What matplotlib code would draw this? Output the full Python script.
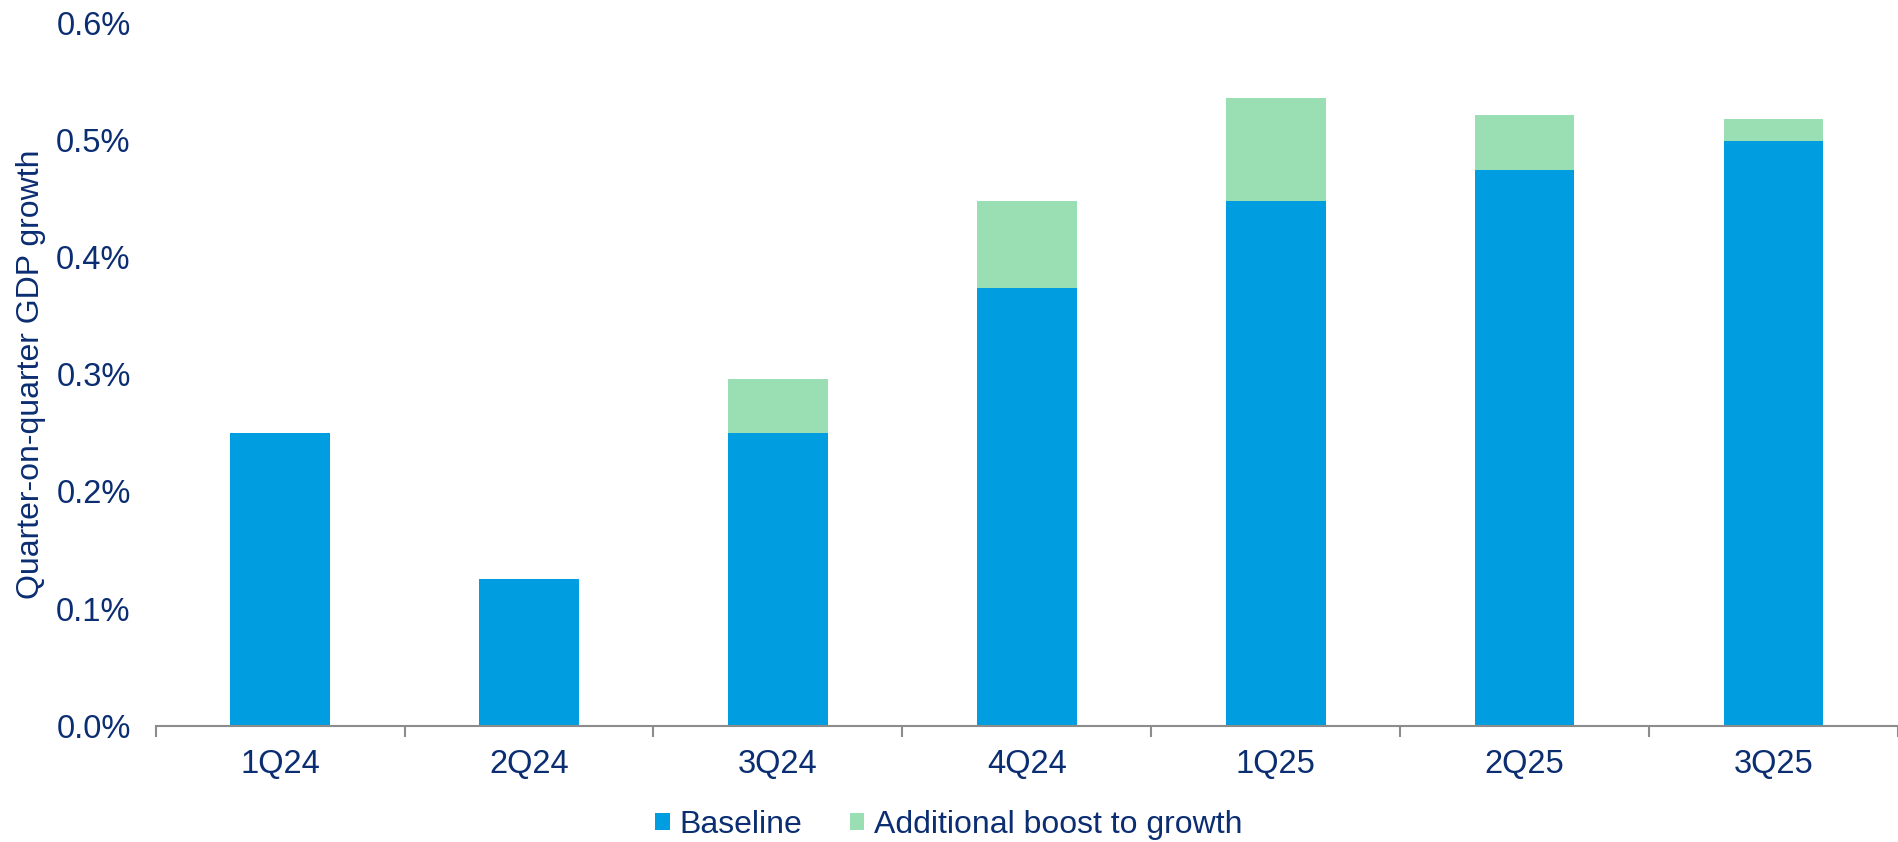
import numpy as np
import matplotlib
matplotlib.use("Agg")
import matplotlib.pyplot as plt
from matplotlib.ticker import FuncFormatter, FixedLocator

plt.rcParams['font.family'] = ['Liberation Sans', 'DejaVu Sans']

# Data (% q/q)
quarters = ["1Q24", "2Q24", "3Q24", "4Q24", "1Q25", "2Q25", "3Q25"]
baseline = [0.250, 0.125, 0.250, 0.374, 0.448, 0.474, 0.499]
boost = [0.0, 0.0, 0.046, 0.074, 0.088, 0.047, 0.019]

navy = "#0B2D71"
blue = "#009EE0"
green = "#9ADFB4"

fig = plt.figure(figsize=(18.98, 8.42), dpi=100)
ax = fig.add_axes([0.082, 0.138, 0.918, 0.835])

x = np.arange(len(quarters))
ax.bar(x, baseline, width=0.4, color=blue, label="Baseline")
ax.bar(x, boost, width=0.4, bottom=baseline, color=green, label="Additional boost to growth")

ax.set_xlim(-0.5, len(quarters) - 0.5)
ax.set_ylim(0, 0.6)
ax.set_yticks(np.arange(0, 0.61, 0.1))
ax.yaxis.set_major_formatter(FuncFormatter(lambda v, p: f"{v:.1f}%"))
ax.tick_params(axis="y", length=0, labelsize=23.5, labelcolor=navy, pad=18)

ax.set_xticks(x)
ax.set_xticklabels(quarters)
ax.tick_params(axis="x", which="major", length=0, labelsize=23.5, labelcolor=navy, pad=17)
ax.xaxis.set_minor_locator(FixedLocator(np.arange(-0.5, len(quarters), 1.0)))
ax.tick_params(axis="x", which="minor", length=8, width=1.5, color="#8C8C8C")

for s in ["top", "right", "left"]:
    ax.spines[s].set_visible(False)
ax.spines["bottom"].set_color("#8C8C8C")
ax.spines["bottom"].set_linewidth(1.5)

ax.set_ylabel("Quarter-on-quarter GDP growth", fontsize=23, color=navy)
ax.yaxis.set_label_coords(-0.063, 0.5)

fig.legend(loc="center", bbox_to_anchor=(0.5, 0.02), ncol=2, frameon=False,
           fontsize=23, labelcolor=navy, handlelength=0.45, handleheight=0.45,
           handletextpad=0.3, columnspacing=1.5)

fig.savefig("out.png", dpi=100)
